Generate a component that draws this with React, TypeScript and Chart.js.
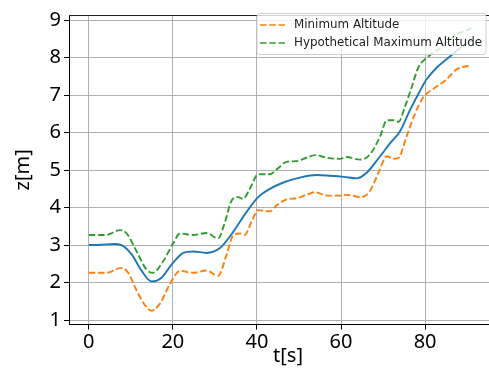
import React, { useEffect, useRef } from "react";
import { Chart, registerables } from "chart.js";

Chart.register(...registerables);

// Time (s) and altitude (m)
const tMid = [0, 3, 6, 7.8, 10.2, 12.6, 14.9, 17.3, 19.7, 22.5, 24.8, 28, 31.2, 34.4, 37.5, 40.3, 43.1, 46.3, 50.2, 54.2, 57.4, 60.7, 63.7, 66.1, 69.3, 71.7, 74, 76.4, 78.8, 80.4, 82.8, 86, 88.3, 91];
const zMid = [3.0, 3.01, 3.03, 3.0, 2.75, 2.31, 2.03, 2.13, 2.48, 2.79, 2.83, 2.79, 2.92, 3.36, 3.88, 4.28, 4.5, 4.67, 4.8, 4.87, 4.85, 4.82, 4.78, 4.93, 5.37, 5.72, 6.03, 6.6, 7.12, 7.43, 7.74, 8.04, 8.26, 8.45];

const tMax = [0, 4.2, 7.4, 9, 11.4, 13.7, 15.3, 17.7, 20.1, 21.7, 24.8, 28, 30.8, 32.4, 34, 35.5, 36.7, 38.3, 40.3, 43.1, 44.7, 47.1, 49.4, 51.8, 53.8, 56.6, 59.8, 61.3, 64.5, 66.9, 69.3, 70.9, 72.5, 73.7, 75.2, 76.8, 78.4, 80.4, 83.6, 87.5, 91];
const zMax = [3.27, 3.27, 3.4, 3.31, 2.83, 2.35, 2.26, 2.57, 3.05, 3.31, 3.27, 3.32, 3.18, 3.62, 4.19, 4.28, 4.23, 4.5, 4.89, 4.89, 5.02, 5.22, 5.24, 5.33, 5.4, 5.33, 5.3, 5.35, 5.28, 5.42, 5.9, 6.33, 6.33, 6.29, 6.69, 7.21, 7.74, 8.0, 8.26, 8.61, 8.79];

const tMin = [0, 4.2, 7.8, 9.4, 11.4, 13.4, 14.9, 16.9, 19.3, 21.7, 24.8, 28, 30.8, 32.8, 34.4, 36, 37.1, 38.7, 40.3, 43.1, 44.7, 47.1, 49.4, 51.8, 53.8, 56.6, 59.8, 61.3, 64.9, 66.9, 68.9, 70.9, 72.5, 73.7, 75.6, 77.6, 79.6, 82, 84.8, 87.5, 91];
const zMin = [2.26, 2.26, 2.39, 2.26, 1.78, 1.39, 1.25, 1.43, 1.96, 2.31, 2.26, 2.32, 2.18, 2.75, 3.27, 3.31, 3.27, 3.62, 3.93, 3.9, 4.06, 4.22, 4.25, 4.34, 4.41, 4.32, 4.32, 4.34, 4.28, 4.45, 4.93, 5.37, 5.3, 5.33, 5.9, 6.51, 6.95, 7.17, 7.39, 7.69, 7.8];

const xTicks = [0, 20, 40, 60, 80];
const yTicks = [1, 2, 3, 4, 5, 6, 7, 8, 9];

const xTitle = "t[s]";
const yTitle = "z[m]";
const legendLabels = ["Minimum Altitude", "Hypothetical Maximum Altitude"];

const BLUE = "#1f77b4";
const ORANGE = "#ff7f0e";
const GREEN = "#2ca02c";

const pts = (t: number[], z: number[]) => t.map((x, i) => ({ x, y: z[i] }));

const overlayPlugin = {
  id: "mplOverlay",
  afterDraw(chart: any) {
    const ctx = chart.ctx;
    const area = chart.chartArea;
    ctx.save();
    // top spine
    ctx.strokeStyle = "#222";
    ctx.lineWidth = 1;
    ctx.beginPath();
    ctx.moveTo(area.left, area.top + 0.5);
    ctx.lineTo(area.right, area.top + 0.5);
    ctx.stroke();

    // x axis title (matplotlib places it slightly right of centre here)
    ctx.font = "20px 'Noto Sans'";
    ctx.fillStyle = "#000";
    ctx.textAlign = "center";
    ctx.textBaseline = "middle";
    ctx.fillText(xTitle, 288, 356);

    // legend box
    const bx = 257, by = 13.5, bw = 229, bh = 41, r = 3;
    ctx.beginPath();
    ctx.moveTo(bx + r, by);
    ctx.lineTo(bx + bw - r, by);
    ctx.quadraticCurveTo(bx + bw, by, bx + bw, by + r);
    ctx.lineTo(bx + bw, by + bh - r);
    ctx.quadraticCurveTo(bx + bw, by + bh, bx + bw - r, by + bh);
    ctx.lineTo(bx + r, by + bh);
    ctx.quadraticCurveTo(bx, by + bh, bx, by + bh - r);
    ctx.lineTo(bx, by + r);
    ctx.quadraticCurveTo(bx, by, bx + r, by);
    ctx.closePath();
    ctx.fillStyle = "rgba(255,255,255,0.8)";
    ctx.fill();
    ctx.strokeStyle = "#d0d0d0";
    ctx.stroke();

    const colors = [ORANGE, GREEN];
    const ys = [25, 43];
    ctx.font = "11.9px 'DejaVu Sans'";
    ctx.textBaseline = "middle";
    ctx.textAlign = "left";
    legendLabels.forEach((label, i) => {
      ctx.strokeStyle = colors[i];
      ctx.lineWidth = 1.6;
      ctx.setLineDash([6.5, 2.8]);
      ctx.beginPath();
      ctx.moveTo(260, ys[i]);
      ctx.lineTo(285, ys[i]);
      ctx.stroke();
      ctx.setLineDash([]);
      ctx.fillStyle = "#222";
      ctx.fillText(label, 294, ys[i]);
    });
    ctx.restore();
  },
};

export default function App() {
  const ref = useRef<HTMLCanvasElement>(null);
  useEffect(() => {
    if (!ref.current) return;
    const lineBase = {
      showLine: true,
      pointRadius: 0,
      borderWidth: 1.9,
      cubicInterpolationMode: "monotone" as const,
      fill: false,
    };
    const chart = new Chart(ref.current, {
      type: "scatter",
      data: {
        datasets: [
          { ...lineBase, label: "z", data: pts(tMid, zMid), borderColor: BLUE, backgroundColor: BLUE },
          { ...lineBase, label: legendLabels[0], data: pts(tMin, zMin), borderColor: ORANGE, backgroundColor: ORANGE, borderDash: [6.5, 2.8] },
          { ...lineBase, label: legendLabels[1], data: pts(tMax, zMax), borderColor: GREEN, backgroundColor: GREEN, borderDash: [6.5, 2.8] },
        ],
      },
      options: {
        animation: false,
        responsive: false,
        devicePixelRatio: 1,
        layout: { padding: { top: 10, right: 0, left: 0, bottom: 0 } },
        plugins: { legend: { display: false }, tooltip: { enabled: false } },
        scales: {
          x: {
            type: "linear",
            min: -4.7,
            max: 95.2,
            afterBuildTicks: (s: any) => { s.ticks = xTicks.map((v) => ({ value: v })); },
            afterFit: (s: any) => { s.height = 47.5; },
            grid: { color: "#b0b0b0", lineWidth: 1, tickColor: "#000", tickLength: 5 },
            border: { color: "#000", width: 1 },
            ticks: { color: "#000", font: { family: "'Noto Sans'", size: 20 }, padding: 1, maxRotation: 0 },
            title: { display: false, text: xTitle },
          },
          y: {
            type: "linear",
            min: 0.88,
            max: 9.14,
            afterBuildTicks: (s: any) => { s.ticks = yTicks.map((v) => ({ value: v })); },
            afterFit: (s: any) => { s.width = 69; },
            grid: { color: "#b0b0b0", lineWidth: 1, tickColor: "#000", tickLength: 5 },
            border: { color: "#000", width: 1 },
            ticks: { color: "#000", font: { family: "'Noto Sans'", size: 20 }, padding: 3 },
            title: { display: true, text: yTitle, color: "#000", font: { family: "'Noto Sans'", size: 20 }, padding: { top: 11, bottom: 0 } },
          },
        },
      },
      plugins: [overlayPlugin],
    });
    return () => chart.destroy();
  }, []);
  return (
    <div style={{ position: "fixed", left: 0, top: 0, width: 489, height: 372, background: "#fff" }}>
      <canvas ref={ref} width={489} height={372} />
    </div>
  );
}
